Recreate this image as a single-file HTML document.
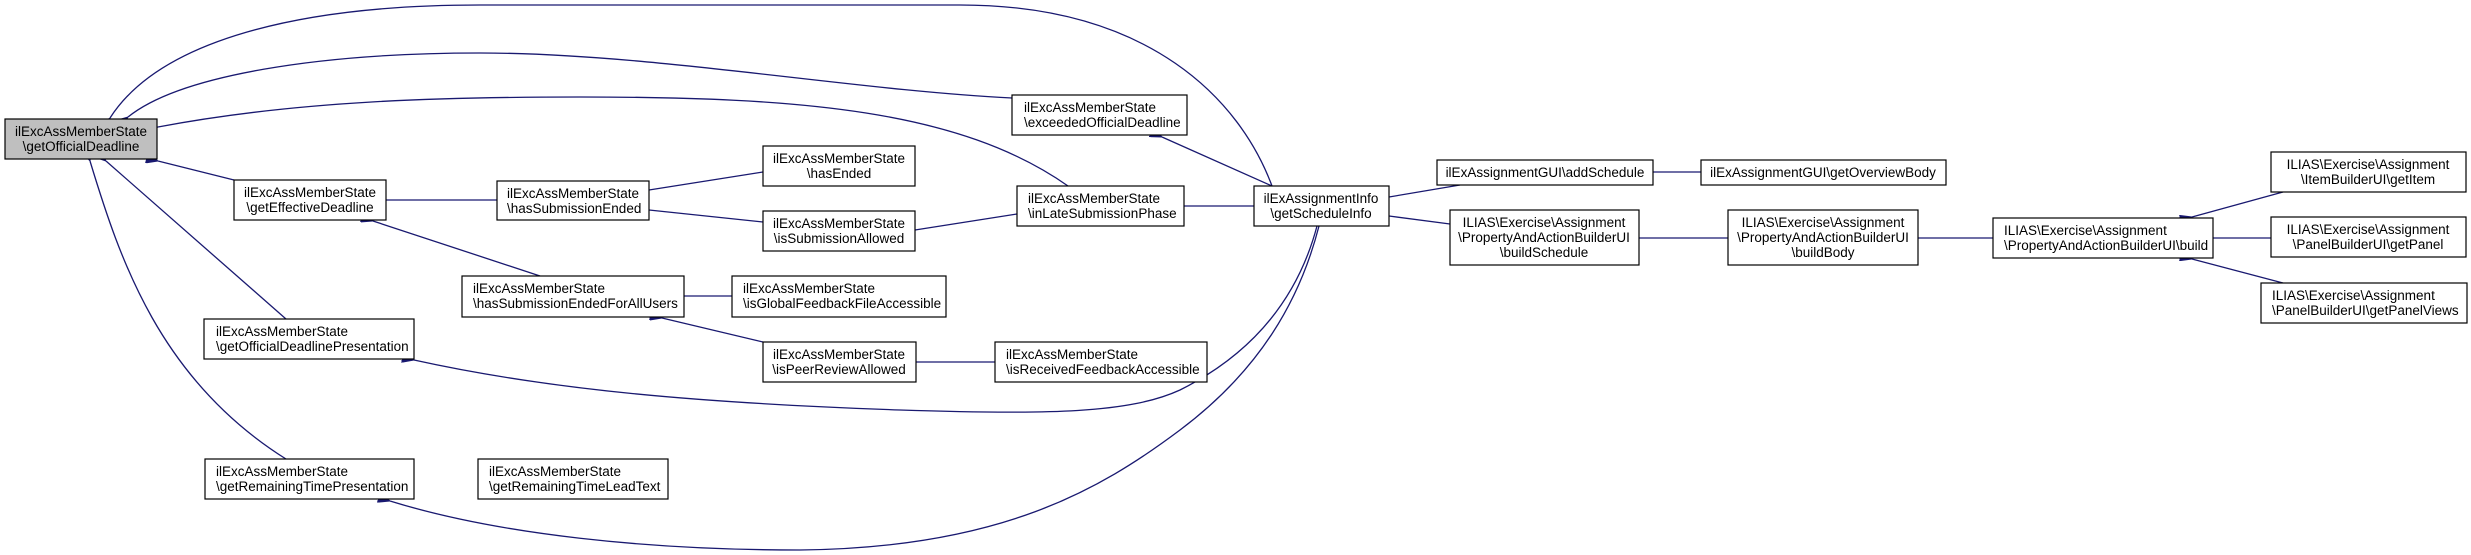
<!DOCTYPE html>
<html><head><meta charset="utf-8"><style>
html,body{margin:0;padding:0;background:#fff;}
svg{display:block;}
text{font-family:"Liberation Sans",sans-serif;font-size:13.5px;fill:#000;}
rect{fill:#fff;stroke:#000;stroke-width:1.2;}
path.e{fill:none;stroke:#191970;stroke-width:1.3;marker-start:url(#ah);}
</style></head><body>
<svg width="2471" height="555" viewBox="0 0 2471 555" xmlns="http://www.w3.org/2000/svg">
<defs>
<marker id="ah" markerWidth="12" markerHeight="10" refX="0" refY="5" orient="auto-start-reverse" markerUnits="userSpaceOnUse">
<path d="M0,5 L12,0 L12,10 Z" fill="#191970" stroke="#191970"/>
</marker>
</defs>

<!-- edges -->
<path class="e" d="M110,118 C160,40 300,5 480,5 L960,5 C1150,5 1240,100 1272,186"/>
<path class="e" d="M128,117 C180,75 320,53 480,53 C650,53 850,90 1012,98"/>
<path class="e" d="M158,127 C300,100 450,97 580,97 C800,97 960,110 1068,186"/>
<path class="e" d="M158,161 L234,180"/>
<path class="e" d="M106,161 L286,319"/>
<path class="e" d="M90,161 C120,260 160,380 286,459"/>
<path class="e" d="M386,200 L497,200"/>
<path class="e" d="M373,221 L540,276"/>
<path class="e" d="M649,190 L763,172"/>
<path class="e" d="M649,210 L763,222"/>
<path class="e" d="M915,230 L1017,214"/>
<path class="e" d="M684,296 L732,296"/>
<path class="e" d="M662,318 L763,342"/>
<path class="e" d="M916,362 L995,362"/>
<path class="e" d="M1162,137 L1272,186"/>
<path class="e" d="M1184,206 L1254,206"/>
<path class="e" d="M414,360 C550,390 700,403 900,410 C1050,415 1130,413 1180,390 C1260,350 1300,290 1317,226"/>
<path class="e" d="M390,501 C500,535 650,550 800,550 C1000,548 1100,490 1180,430 C1260,370 1300,300 1319,226"/>
<path class="e" d="M310,479 L357,479"/>
<path class="e" d="M1389,197 L1460,185"/>
<path class="e" d="M1389,216 L1450,224"/>
<path class="e" d="M1653,172 L1701,172"/>
<path class="e" d="M1639,238 L1728,238"/>
<path class="e" d="M1918,238 L1993,238"/>
<path class="e" d="M2192,217 L2283,192"/>
<path class="e" d="M2213,238 L2271,238"/>
<path class="e" d="M2192,259 L2283,283"/>

<!-- nodes -->
<rect x="5" y="119" width="152" height="40" style="fill:#bfbfbf"/>
<text x="81" y="136" text-anchor="middle">ilExcAssMemberState</text>
<text x="81" y="151" text-anchor="middle">\getOfficialDeadline</text>

<rect x="234" y="180" width="152" height="40"/>
<text x="310" y="197" text-anchor="middle">ilExcAssMemberState</text>
<text x="310" y="212" text-anchor="middle">\getEffectiveDeadline</text>

<rect x="204" y="319" width="210" height="40"/>
<text x="216" y="336">ilExcAssMemberState</text>
<text x="216" y="351">\getOfficialDeadlinePresentation</text>

<rect x="205" y="459" width="209" height="40"/>
<text x="216" y="476">ilExcAssMemberState</text>
<text x="216" y="491">\getRemainingTimePresentation</text>

<rect x="478" y="459" width="190" height="40"/>
<text x="489" y="476">ilExcAssMemberState</text>
<text x="489" y="491">\getRemainingTimeLeadText</text>

<rect x="497" y="181" width="152" height="39"/>
<text x="507" y="198">ilExcAssMemberState</text>
<text x="507" y="213">\hasSubmissionEnded</text>

<rect x="462" y="276" width="222" height="41"/>
<text x="473" y="293">ilExcAssMemberState</text>
<text x="473" y="308">\hasSubmissionEndedForAllUsers</text>

<rect x="763" y="146" width="152" height="40"/>
<text x="839" y="163" text-anchor="middle">ilExcAssMemberState</text>
<text x="839" y="178" text-anchor="middle">\hasEnded</text>

<rect x="763" y="211" width="152" height="40"/>
<text x="839" y="228" text-anchor="middle">ilExcAssMemberState</text>
<text x="839" y="243" text-anchor="middle">\isSubmissionAllowed</text>

<rect x="732" y="276" width="214" height="41"/>
<text x="743" y="293">ilExcAssMemberState</text>
<text x="743" y="308">\isGlobalFeedbackFileAccessible</text>

<rect x="763" y="342" width="153" height="40"/>
<text x="839" y="359" text-anchor="middle">ilExcAssMemberState</text>
<text x="839" y="374" text-anchor="middle">\isPeerReviewAllowed</text>

<rect x="995" y="342" width="212" height="40"/>
<text x="1006" y="359">ilExcAssMemberState</text>
<text x="1006" y="374">\isReceivedFeedbackAccessible</text>

<rect x="1012" y="95" width="175" height="40"/>
<text x="1024" y="112">ilExcAssMemberState</text>
<text x="1024" y="127">\exceededOfficialDeadline</text>

<rect x="1017" y="186" width="167" height="40"/>
<text x="1028" y="203">ilExcAssMemberState</text>
<text x="1028" y="218">\inLateSubmissionPhase</text>

<rect x="1254" y="186" width="135" height="40"/>
<text x="1321" y="203" text-anchor="middle">ilExAssignmentInfo</text>
<text x="1321" y="218" text-anchor="middle">\getScheduleInfo</text>

<rect x="1437" y="160" width="216" height="25"/>
<text x="1545" y="177" text-anchor="middle">ilExAssignmentGUI\addSchedule</text>

<rect x="1701" y="160" width="245" height="25"/>
<text x="1823" y="177" text-anchor="middle">ilExAssignmentGUI\getOverviewBody</text>

<rect x="1450" y="210" width="189" height="55"/>
<text x="1544" y="227" text-anchor="middle">ILIAS\Exercise\Assignment</text>
<text x="1544" y="242" text-anchor="middle">\PropertyAndActionBuilderUI</text>
<text x="1544" y="257" text-anchor="middle">\buildSchedule</text>

<rect x="1728" y="210" width="190" height="55"/>
<text x="1823" y="227" text-anchor="middle">ILIAS\Exercise\Assignment</text>
<text x="1823" y="242" text-anchor="middle">\PropertyAndActionBuilderUI</text>
<text x="1823" y="257" text-anchor="middle">\buildBody</text>

<rect x="1993" y="218" width="220" height="40"/>
<text x="2004" y="235">ILIAS\Exercise\Assignment</text>
<text x="2004" y="250">\PropertyAndActionBuilderUI\build</text>

<rect x="2271" y="152" width="195" height="40"/>
<text x="2368" y="169" text-anchor="middle">ILIAS\Exercise\Assignment</text>
<text x="2368" y="184" text-anchor="middle">\ItemBuilderUI\getItem</text>

<rect x="2271" y="217" width="195" height="40"/>
<text x="2368" y="234" text-anchor="middle">ILIAS\Exercise\Assignment</text>
<text x="2368" y="249" text-anchor="middle">\PanelBuilderUI\getPanel</text>

<rect x="2261" y="283" width="206" height="40"/>
<text x="2272" y="300">ILIAS\Exercise\Assignment</text>
<text x="2272" y="315">\PanelBuilderUI\getPanelViews</text>
</svg>
</body></html>
